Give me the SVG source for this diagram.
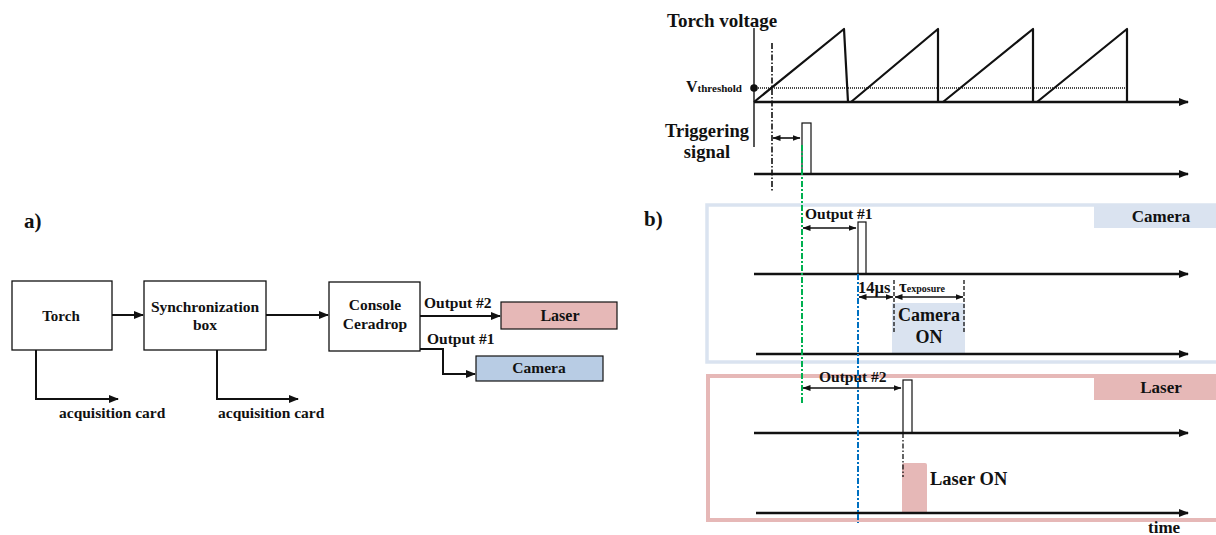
<svg xmlns="http://www.w3.org/2000/svg" width="1216" height="535" viewBox="0 0 1216 535">
<defs>
<style>
text{font-family:"Liberation Serif","Times New Roman",serif;font-weight:bold;fill:#111}
.box{fill:#fff;stroke:#111;stroke-width:1.3}
.ln{fill:none;stroke:#111;stroke-width:2}
.ax{fill:none;stroke:#111;stroke-width:2.4}
.thin{fill:none;stroke:#111;stroke-width:1.4}
.dbl{fill:none;stroke:#111;stroke-width:1.6}
.pulse{fill:#fff;stroke:#111;stroke-width:1.2}
</style>
<marker id="ah" viewBox="0 0 10 8" refX="9" refY="4" markerWidth="10" markerHeight="8" markerUnits="userSpaceOnUse" orient="auto"><path d="M0,0 L10,4 L0,8 Z" fill="#111"/></marker>
<marker id="sh" viewBox="0 0 8 6" refX="7.5" refY="3" markerWidth="8" markerHeight="6" markerUnits="userSpaceOnUse" orient="auto-start-reverse"><path d="M0,0 L8,3 L0,6 Z" fill="#111"/></marker>
</defs>

<!-- a) block diagram -->
<text x="24" y="228" font-size="21">a)</text>
<g id="torch"><rect class="box" x="12" y="281" width="100" height="69"/><text x="61" y="321" font-size="15" text-anchor="middle">Torch</text></g>
<g id="sync"><rect class="box" x="144" y="281" width="122" height="69"/><text x="205" y="312" font-size="15.5" text-anchor="middle">Synchronization</text><text x="205" y="330" font-size="15.5" text-anchor="middle">box</text></g>
<g id="console"><rect class="box" x="329" y="282" width="91" height="69"/><text x="375" y="310" font-size="15.5" text-anchor="middle">Console</text><text x="375" y="329" font-size="15.5" text-anchor="middle">Ceradrop</text></g>
<g id="laser-a"><rect x="501" y="302" width="116" height="27" fill="#e6b8b7" stroke="#111" stroke-width="1.2"/><text x="560" y="321" font-size="16" text-anchor="middle">Laser</text></g>
<g id="camera-a"><rect x="476" y="356" width="127" height="25" fill="#b8cce4" stroke="#111" stroke-width="1.2"/><text x="539" y="373" font-size="15.5" text-anchor="middle">Camera</text></g>
<g id="acq1"><text x="59" y="418" font-size="15.5">acquisition card</text></g>
<g id="acq2"><text x="218" y="418" font-size="15.5">acquisition card</text></g>
<g id="connectors-a">
<path class="ln" d="M112,315 H143" marker-end="url(#ah)"/>
<path class="ln" d="M266,315 H328" marker-end="url(#ah)"/>
<path class="ln" d="M36,350 V399 H118" marker-end="url(#ah)"/>
<path class="ln" d="M217,350 V399 H298" marker-end="url(#ah)"/>
<path class="ln" d="M420,316 H500" marker-end="url(#ah)"/>
<path class="ln" d="M420,349 H443 V374 H475" marker-end="url(#ah)"/>
<text x="424" y="308" font-size="15.5">Output #2</text>
<text x="427" y="344" font-size="15.5">Output #1</text>
</g>

<!-- b) timing diagram -->
<text x="644" y="226" font-size="21">b)</text>

<g id="torch-voltage">
<text x="667" y="27" font-size="19">Torch voltage</text>
<path class="thin" d="M754,28 V147"/>
<path class="ax" d="M754,102 H1188" marker-end="url(#ah)"/>
<path d="M754,88 H1125" fill="none" stroke="#111" stroke-width="1.4" stroke-dasharray="1 1"/>
<circle cx="754" cy="88" r="3.8" fill="#111"/>
<text x="686" y="92" font-size="16">V<tspan font-size="11">threshold</tspan></text>
<path d="M754,102 L844,29 L848,102 M851,102 L938,29 V102 M943,102 L1033,29 V102 M1037,102 L1127,29 V102" fill="none" stroke="#111" stroke-width="2.2" stroke-linejoin="round"/>
</g>

<g id="trigger">
<text x="707" y="137" font-size="18.5" text-anchor="middle">Triggering</text>
<text x="707" y="158" font-size="18.5" text-anchor="middle">signal</text>
<rect class="pulse" x="802" y="123" width="9" height="51"/>
<path class="ax" d="M754,174 H1188" marker-end="url(#ah)"/>
</g>

<g id="camera-panel">
<rect x="707" y="205" width="520" height="157" fill="none" stroke="#dae3f0" stroke-width="3.5"/>
<rect x="1094" y="205" width="125" height="23" fill="#dae3f0"/>
<text x="1161" y="222" font-size="17" text-anchor="middle">Camera</text>
<text x="805" y="219" font-size="15.5">Output #1</text>
<rect class="pulse" x="858" y="222" width="8" height="52"/>
<path class="ax" d="M754,274 H1188" marker-end="url(#ah)"/>
<rect x="892" y="303" width="73" height="50" fill="#dae3f0"/>
<text x="929" y="321" font-size="18" text-anchor="middle">Camera</text>
<text x="929" y="343" font-size="18" text-anchor="middle">ON</text>
<text x="858" y="293" font-size="16.5">14µs</text>
<text x="899" y="292" font-size="17">τ<tspan font-size="10">exposure</tspan></text>
<path class="ax" d="M756,354 H1188" marker-end="url(#ah)"/>
</g>

<g id="laser-panel">
<rect x="708" y="376" width="520" height="144" fill="none" stroke="#e6b8b7" stroke-width="4"/>
<rect x="1094" y="374" width="125" height="26" fill="#e6b8b7"/>
<text x="1161" y="393" font-size="17" text-anchor="middle">Laser</text>
<text x="819" y="382" font-size="15.5">Output #2</text>
<rect class="pulse" x="903" y="380" width="9" height="53"/>
<path class="ax" d="M754,433 H1188" marker-end="url(#ah)"/>
<path d="M902,512 V465 Q902,463 904,463 H925 Q927,463 927,465 V512 Z" fill="#e6b8b7"/>
<text x="930" y="485" font-size="18.5">Laser ON</text>
<path class="ax" d="M756,513 H1188" marker-end="url(#ah)"/>
<text x="1148" y="533" font-size="17">time</text>
</g>

<g id="connectors">
<path d="M772,43 V192" fill="none" stroke="#111" stroke-width="1.6" stroke-dasharray="6 2 1.5 2"/>
<path d="M802,145 V405" fill="none" stroke="#00b050" stroke-width="2" stroke-dasharray="6 2 2 2"/>
<path d="M858,274 V523" fill="none" stroke="#0070c0" stroke-width="2" stroke-dasharray="6 2 2 2"/>
<path d="M894,280 V332 M964,280 V332" fill="none" stroke="#111" stroke-width="1.3" stroke-dasharray="4 2"/>
<path d="M903,433 V477" fill="none" stroke="#111" stroke-width="1.3" stroke-dasharray="5 2 1.5 2"/>
<path class="dbl" d="M773,138 H800" marker-start="url(#sh)" marker-end="url(#sh)"/>
<path class="dbl" d="M803,228 H856" marker-start="url(#sh)" marker-end="url(#sh)"/>
<path class="dbl" d="M803,388 H901" marker-start="url(#sh)" marker-end="url(#sh)"/>
<path class="dbl" d="M859,297 H893" marker-start="url(#sh)" marker-end="url(#sh)"/>
<path class="dbl" d="M895,297 H963" marker-start="url(#sh)" marker-end="url(#sh)"/>
</g>
</svg>
